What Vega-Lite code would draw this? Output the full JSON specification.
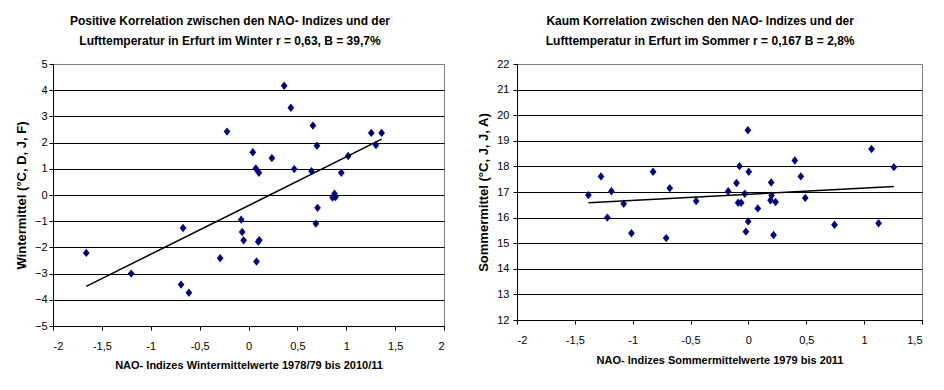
{
  "$schema": "https://vega.github.io/schema/vega-lite/v6.json",
  "background": "white",
  "padding": {"left": 14, "top": 14, "right": 4, "bottom": 4},
  "spacing": 32,
  "config": {
    "font": "Liberation Sans",
    "view": {"stroke": "#808080", "strokeWidth": 1},
    "axis": {
      "labelFont": "Liberation Sans",
      "labelFontSize": 11,
      "labelColor": "black",
      "titleFont": "Liberation Sans",
      "titleFontSize": 11,
      "titleFontWeight": "bold",
      "titleColor": "black",
      "domainColor": "black",
      "tickColor": "black",
      "tickSize": 4,
      "gridColor": "black",
      "gridOpacity": 1,
      "labelOverlap": false,
      "tickCount": 12
    },
    "title": {
      "font": "Liberation Sans",
      "fontSize": 12,
      "fontWeight": "bold",
      "color": "black",
      "anchor": "middle",
      "frame": "bounds",
      "lineHeight": 20
    }
  },
  "datasets": {
    "winter": [
      {"nao": -1.66, "temp": -2.21}, {"nao": -1.2, "temp": -3.0}, {"nao": -0.67, "temp": -1.26},
      {"nao": -0.69, "temp": -3.42}, {"nao": -0.61, "temp": -3.73}, {"nao": -0.29, "temp": -2.41},
      {"nao": -0.22, "temp": 2.42}, {"nao": -0.075, "temp": -0.94}, {"nao": -0.065, "temp": -1.41},
      {"nao": -0.05, "temp": -1.73}, {"nao": 0.044, "temp": 1.63}, {"nao": 0.075, "temp": 1.01},
      {"nao": 0.106, "temp": 0.85}, {"nao": 0.082, "temp": -2.54}, {"nao": 0.1, "temp": -1.78},
      {"nao": 0.11, "temp": -1.72}, {"nao": 0.239, "temp": 1.41}, {"nao": 0.365, "temp": 4.17},
      {"nao": 0.433, "temp": 3.33}, {"nao": 0.468, "temp": 0.99}, {"nao": 0.659, "temp": 2.65},
      {"nao": 0.645, "temp": 0.91}, {"nao": 0.7, "temp": 1.88}, {"nao": 0.706, "temp": -0.49},
      {"nao": 0.689, "temp": -1.09}, {"nao": 0.86, "temp": -0.1}, {"nao": 0.88, "temp": 0.05},
      {"nao": 0.89, "temp": -0.08}, {"nao": 0.949, "temp": 0.85}, {"nao": 1.02, "temp": 1.49},
      {"nao": 1.256, "temp": 2.37}, {"nao": 1.304, "temp": 1.91}, {"nao": 1.362, "temp": 2.37}
    ],
    "sommer": [
      {"nao": -1.383, "temp": 16.88}, {"nao": -1.274, "temp": 17.61}, {"nao": -1.219, "temp": 16.0},
      {"nao": -1.184, "temp": 17.03}, {"nao": -1.078, "temp": 16.54}, {"nao": -1.011, "temp": 15.39},
      {"nao": -0.824, "temp": 17.79}, {"nao": -0.711, "temp": 15.2}, {"nao": -0.68, "temp": 17.15},
      {"nao": -0.452, "temp": 16.65}, {"nao": -0.175, "temp": 17.03}, {"nao": -0.103, "temp": 17.35},
      {"nao": -0.077, "temp": 18.01}, {"nao": -0.089, "temp": 16.58}, {"nao": -0.063, "temp": 16.58},
      {"nao": -0.031, "temp": 16.93}, {"nao": -0.022, "temp": 15.45}, {"nao": -0.005, "temp": 19.41},
      {"nao": 0.003, "temp": 17.79}, {"nao": -0.002, "temp": 15.85}, {"nao": 0.081, "temp": 16.36},
      {"nao": 0.197, "temp": 17.37}, {"nao": 0.2, "temp": 16.86}, {"nao": 0.191, "temp": 16.68},
      {"nao": 0.234, "temp": 16.61}, {"nao": 0.217, "temp": 15.32}, {"nao": 0.401, "temp": 18.23},
      {"nao": 0.453, "temp": 17.61}, {"nao": 0.491, "temp": 16.77}, {"nao": 0.744, "temp": 15.72},
      {"nao": 1.064, "temp": 18.68}, {"nao": 1.125, "temp": 15.78}, {"nao": 1.257, "temp": 17.97}
    ]
  },
  "hconcat": [
    {
      "width": 391,
      "height": 262,
      "title": {
        "text": ["Positive Korrelation zwischen den NAO- Indizes und der", "Lufttemperatur in Erfurt im Winter r = 0,63, B = 39,7%"],
        "offset": 10
      },
      "data": {"name": "winter"},
      "layer": [
        {
          "mark": {"type": "point", "shape": "M0,-1L0.8,0L0,1L-0.8,0Z", "filled": true, "size": 70, "color": "#000080", "opacity": 1, "strokeWidth": 0},
          "encoding": {
            "x": {
              "field": "nao", "type": "quantitative",
              "scale": {"domain": [-2, 2], "nice": false, "zero": false},
              "axis": {
                "values": [-2, -1.5, -1, -0.5, 0, 0.5, 1, 1.5, 2],
                "labelExpr": "replace(toString(datum.value), '.', ',')",
                "grid": false, "labelPadding": 10, "titlePadding": 8,
                "title": "NAO- Indizes Wintermittelwerte 1978/79 bis 2010/11"
              }
            },
            "y": {
              "field": "temp", "type": "quantitative",
              "scale": {"domain": [-5, 5], "nice": false, "zero": false},
              "axis": {
                "values": [-5, -4, -3, -2, -1, 0, 1, 2, 3, 4, 5],
                "grid": true,
                "gridColor": {"condition": {"test": "datum.value == 5", "value": "#808080"}, "value": "black"},
                "labelPadding": 2, "titlePadding": 6, "titleFontSize": 13,
                "title": "Wintermittel (°C, D, J, F)"
              }
            }
          }
        },
        {
          "mark": {"type": "line", "color": "black", "strokeWidth": 1.5},
          "transform": [{"regression": "temp", "on": "nao"}],
          "encoding": {
            "x": {"field": "nao", "type": "quantitative"},
            "y": {"field": "temp", "type": "quantitative"}
          }
        }
      ]
    },
    {
      "width": 405,
      "height": 256,
      "title": {
        "text": ["Kaum Korrelation zwischen den NAO- Indizes und der", "Lufttemperatur in Erfurt im Sommer r = 0,167 B = 2,8%"],
        "offset": 10
      },
      "data": {"name": "sommer"},
      "layer": [
        {
          "mark": {"type": "point", "shape": "M0,-1L0.8,0L0,1L-0.8,0Z", "filled": true, "size": 70, "color": "#000080", "opacity": 1, "strokeWidth": 0},
          "encoding": {
            "x": {
              "field": "nao", "type": "quantitative",
              "scale": {"domain": [-2, 1.5], "nice": false, "zero": false},
              "axis": {
                "values": [-2, -1.5, -1, -0.5, 0, 0.5, 1, 1.5],
                "labelExpr": "replace(toString(datum.value), '.', ',')",
                "grid": false, "labelPadding": 10, "titlePadding": 9,
                "title": "NAO- Indizes Sommermittelwerte 1979 bis 2011"
              }
            },
            "y": {
              "field": "temp", "type": "quantitative",
              "scale": {"domain": [12, 22], "nice": false, "zero": false},
              "axis": {
                "values": [12, 13, 14, 15, 16, 17, 18, 19, 20, 21, 22],
                "grid": true,
                "gridColor": {"condition": {"test": "datum.value == 22", "value": "#808080"}, "value": "black"},
                "labelPadding": 4, "titlePadding": 6, "titleFontSize": 13,
                "title": "Sommermittel (°C, J, J, A)"
              }
            }
          }
        },
        {
          "mark": {"type": "line", "color": "black", "strokeWidth": 1.5},
          "transform": [{"regression": "temp", "on": "nao"}],
          "encoding": {
            "x": {"field": "nao", "type": "quantitative"},
            "y": {"field": "temp", "type": "quantitative"}
          }
        }
      ]
    }
  ]
}
